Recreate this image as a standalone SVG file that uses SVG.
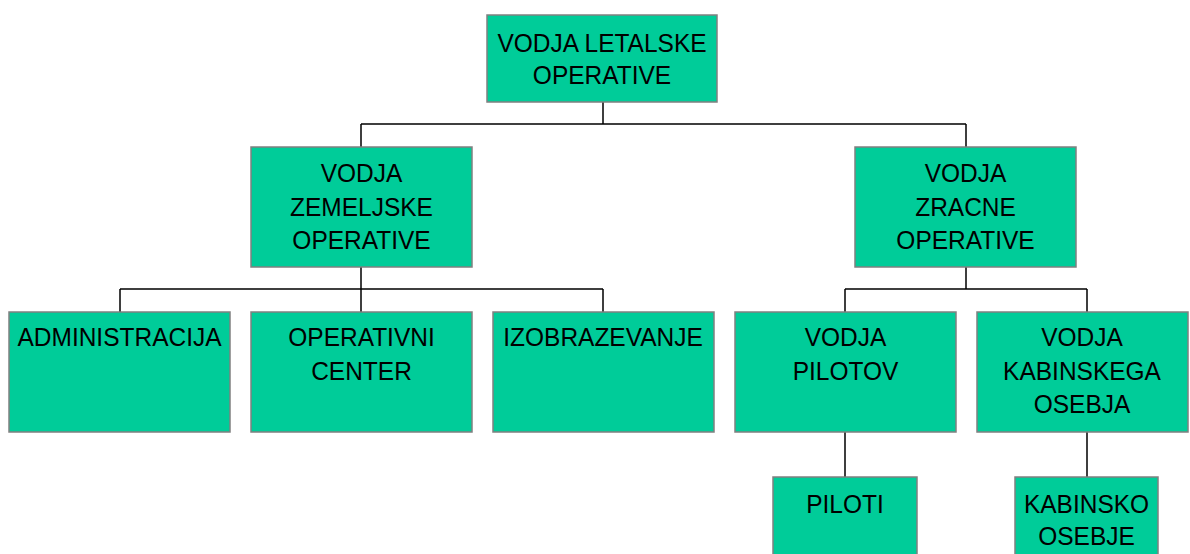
<svg xmlns="http://www.w3.org/2000/svg" width="1190" height="554" viewBox="0 0 1190 554">
<style>
.box{fill:#00CC99;stroke:#808080;stroke-width:1.5}
.t{font-family:"Liberation Sans",Arial,sans-serif;font-size:24.5px;fill:#000;text-anchor:middle}
.c{fill:none;stroke:#000;stroke-width:1.5}
</style>
<rect width="1190" height="554" fill="#fff"/>
<g id="connectors">
<path class="c" d="M603 102V124M361 124H966M361 124V147M966 124V147"/>
<path class="c" d="M361 267V289M120 289H603M120 289V312M361 289V312M603 289V312"/>
<path class="c" d="M966 267V289M845 289H1087M845 289V312M1087 289V312"/>
<path class="c" d="M845 432V477M1087 432V477"/>
</g>
<g id="n-top"><rect class="box" x="487" y="15" width="230" height="87"/><text class="t" transform="translate(602,52) scale(1,1.09)"><tspan x="0" y="0">VODJA LETALSKE</tspan><tspan x="0" dy="29.4">OPERATIVE</tspan></text></g>
<g id="n-zem"><rect class="box" x="251" y="147" width="221" height="120"/><text class="t" transform="translate(361.5,182) scale(1,1.09)"><tspan x="0" y="0">VODJA</tspan><tspan x="0" dy="30.8">ZEMELJSKE</tspan><tspan x="0" dy="30.8">OPERATIVE</tspan></text></g>
<g id="n-zrac"><rect class="box" x="855" y="147" width="221" height="120"/><text class="t" transform="translate(965.5,182) scale(1,1.09)"><tspan x="0" y="0">VODJA</tspan><tspan x="0" dy="30.8">ZRACNE</tspan><tspan x="0" dy="30.8">OPERATIVE</tspan></text></g>
<g id="n-admin"><rect class="box" x="9" y="312" width="221" height="120"/><text class="t" transform="translate(119.5,346) scale(1,1.09)" x="0" y="0">ADMINISTRACIJA</text></g>
<g id="n-opc"><rect class="box" x="251" y="312" width="221" height="120"/><text class="t" transform="translate(361.5,346) scale(1,1.09)"><tspan x="0" y="0">OPERATIVNI</tspan><tspan x="0" dy="30.8">CENTER</tspan></text></g>
<g id="n-izo"><rect class="box" x="493" y="312" width="221" height="120"/><text class="t" transform="translate(603,346) scale(1,1.09)" x="0" y="0">IZOBRAZEVANJE</text></g>
<g id="n-pil"><rect class="box" x="735" y="312" width="221" height="120"/><text class="t" transform="translate(845.5,346) scale(1,1.09)"><tspan x="0" y="0">VODJA</tspan><tspan x="0" dy="30.8">PILOTOV</tspan></text></g>
<g id="n-kab"><rect class="box" x="977" y="312" width="211" height="120"/><text class="t" transform="translate(1082,346) scale(1,1.09)"><tspan x="0" y="0">VODJA</tspan><tspan x="0" dy="30.8">KABINSKEGA</tspan><tspan x="0" dy="30.8">OSEBJA</tspan></text></g>
<g id="n-piloti"><rect class="box" x="773" y="477" width="144" height="82"/><text class="t" transform="translate(845,513) scale(1,1.09)" x="0" y="0">PILOTI</text></g>
<g id="n-kabos"><rect class="box" x="1015" y="477" width="143" height="82"/><text class="t" transform="translate(1086.5,513) scale(1,1.09)"><tspan x="0" y="0">KABINSKO</tspan><tspan x="0" dy="29.4">OSEBJE</tspan></text></g>
</svg>
